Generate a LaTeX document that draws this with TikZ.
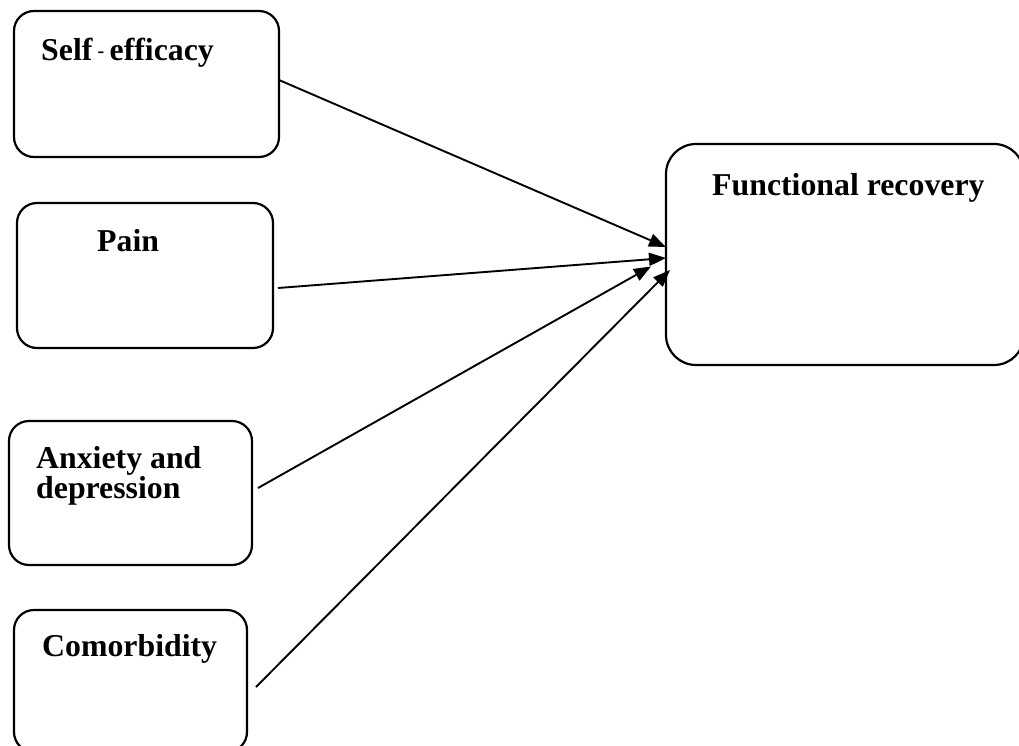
\documentclass[tikz,border=0pt]{standalone}
\usepackage{fontspec}
\setmainfont{Liberation Serif}
\usetikzlibrary{arrows.meta}
\begin{document}
\begin{tikzpicture}[x=1pt,y=-1pt,
  box/.style={draw=black, line width=2.2pt, rounded corners=20pt, inner sep=0pt, outer sep=0pt},
  bigbox/.style={box, rounded corners=30pt},
  lbl/.style={anchor=base west, inner sep=0pt, font=\bfseries\fontsize{31.8}{30}\selectfont},
  conn/.style={line width=1.9pt, -{Triangle[length=17pt,width=13pt]}}]
\useasboundingbox (0,0) rectangle (1019,746);
% boxes
\node[box, minimum width=265pt, minimum height=146pt] (se) at (146.5,84) {};
\node[box, minimum width=256pt, minimum height=145pt] (pa) at (145,275.5) {};
\node[box, minimum width=243pt, minimum height=144pt] (ad) at (130.5,493) {};
\node[box, minimum width=233pt, minimum height=142pt] (co) at (130.5,681) {};
\node[bigbox, minimum width=358pt, minimum height=221pt] (fr) at (845,254.5) {};
% labels
\node[lbl] (tse) at (41,61) {Self\,\raisebox{3pt}{\fontsize{20}{20}\selectfont-}\,efficacy};
\node[lbl] (tpa) at (97,251) {Pain};
\node[lbl] (tad1) at (36,468) {Anxiety and};
\node[lbl] (tad2) at (36,498) {depression};
\node[lbl] (tco) at (42,656) {Comorbidity};
\node[lbl] (tfr) at (712,196) {Functional recovery};
% connectors
\draw[conn] ([yshift=4pt]se.east) -- ([yshift=7.5pt]fr.west);
\draw[conn] ([xshift=5pt,yshift=-12.5pt]pa.east) -- ([yshift=-3.5pt]fr.west);
\draw[conn] ([xshift=6pt,yshift=5pt]ad.east) -- ([xshift=-15pt,yshift=-12pt]fr.west);
\draw[conn] ([xshift=9pt,yshift=-6pt]co.east) -- ([xshift=4pt,yshift=-15.5pt]fr.west);
\end{tikzpicture}
\end{document}
